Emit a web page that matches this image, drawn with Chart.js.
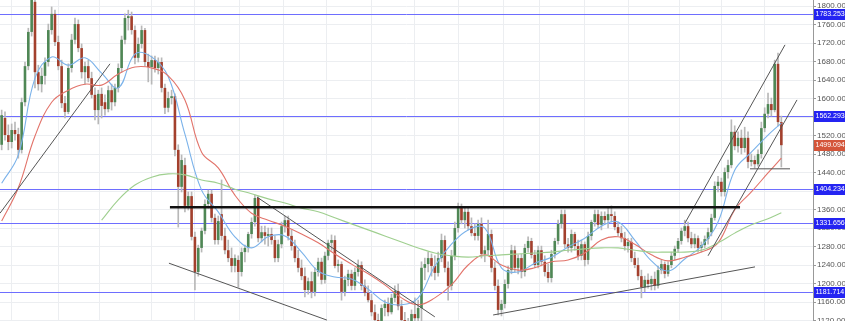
<!DOCTYPE html>
<html>
<head>
<meta charset="utf-8">
<script src="https://cdn.jsdelivr.net/npm/chart.js@4.4.1/dist/chart.umd.min.js"></script>
<style>
  html, body { margin: 0; padding: 0; background: #fff; }
  #wrap { width: 845px; height: 321px; }
</style>
</head>
<body>
<div id="wrap"><canvas id="chart" width="845" height="321"></canvas></div>
<script>
// candle data, one value per candle
const opens = [
  1500,1558,1521,1506,1532,1523,1489,1592,1670,1744,
  1809,1657,1631,1649,1679,1748,1783,1722,1670,1590,
  1571,1666,1727,1761,1709,1657,1670,1644,1608,1575,
  1610,1592,1577,1618,1592,1623,1666,1727,1774,1778,
  1748,1688,1718,1748,1679,1668,1683,1666,1679,1623,
  1580,1601,1605,1489,1409,1456,1368,1389,1301,1225,
  1277,1314,1372,1394,1342,1294,1350,1303,1272,1255,
  1238,1251,1225,1268,1277,1307,1333,1385,1298,1311,
  1303,1307,1294,1255,1285,1324,1337,1303,1281,1255,
  1234,1216,1186,1205,1182,1225,1247,1208,1260,1288,
  1294,1238,1242,1182,1208,1221,1195,1225,1240,1195,
  1180,1164,1138,1121,1104,1147,1156,1138,1169,1184,
  1151,1121,1104,1117,1134,1125,1147,1234,1242,1255,
  1238,1223,1255,1294,1234,1195,1260,1320,1363,1337,
  1355,1324,1309,1303,1329,1264,1272,1307,1234,1195,
  1143,1156,1199,1229,1272,1234,1255,1225,1277,1292,
  1262,1240,1272,1247,1225,1212,1264,1292,1329,1350,
  1285,1277,1307,1281,1260,1285,1251,1303,1333,1350,
  1327,1346,1337,1350,1346,1322,1309,1298,1281,1290,
  1255,1240,1216,1192,1208,1199,1210,1195,1229,1242,
  1221,1240,1260,1275,1292,1314,1324,1298,1285,1298,
  1277,1283,1296,1311,1342,1411,1420,1398,1441,1456,
  1528,1497,1515,1493,1515,1463,1467,1458,1480,1536,
  1567,1588,1575,1675,1549
];
const highs = [
  1575,1571,1543,1545,1549,1536,1601,1679,1752,1845,
  1824,1672,1666,1688,1761,1798,1791,1735,1683,1605,
  1675,1739,1774,1770,1718,1679,1683,1657,1623,1618,
  1623,1608,1627,1631,1631,1675,1735,1783,1791,1787,
  1757,1731,1757,1752,1696,1692,1692,1688,1688,1631,
  1614,1618,1610,1500,1478,1471,1398,1398,1311,1283,
  1320,1381,1402,1402,1350,1346,1424,1320,1294,1277,
  1262,1260,1277,1283,1311,1342,1391,1389,1324,1324,
  1320,1320,1303,1294,1333,1346,1346,1316,1294,1272,
  1251,1234,1212,1225,1234,1255,1255,1268,1294,1305,
  1303,1251,1247,1216,1229,1229,1234,1251,1247,1208,
  1195,1177,1154,1134,1154,1164,1169,1177,1195,1199,
  1164,1138,1125,1143,1169,1164,1247,1255,1268,1264,
  1260,1268,1307,1303,1247,1272,1333,1374,1372,1363,
  1363,1342,1329,1337,1342,1281,1337,1316,1247,1208,
  1164,1208,1238,1283,1281,1262,1264,1285,1301,1298,
  1272,1281,1281,1260,1242,1272,1298,1337,1359,1359,
  1298,1316,1311,1294,1294,1290,1311,1337,1359,1359,
  1355,1355,1363,1368,1355,1333,1324,1311,1298,1298,
  1268,1255,1229,1216,1221,1216,1225,1238,1251,1247,
  1247,1268,1281,1298,1320,1337,1333,1311,1307,1303,
  1290,1303,1320,1350,1420,1432,1428,1450,1467,1554,
  1541,1528,1532,1538,1528,1480,1476,1489,1549,1580,
  1612,1601,1683,1698,1562
];
const lows = [
  1489,1510,1489,1493,1510,1471,1482,1584,1662,1735,
  1623,1618,1614,1631,1670,1739,1714,1662,1580,1558,
  1567,1657,1718,1701,1644,1631,1636,1601,1554,1545,
  1558,1564,1571,1575,1584,1614,1657,1718,1748,1739,
  1675,1679,1709,1670,1636,1631,1657,1653,1614,1567,
  1571,1588,1476,1322,1398,1355,1359,1294,1186,1216,
  1268,1307,1363,1333,1285,1285,1294,1264,1247,1225,
  1225,1192,1216,1247,1268,1298,1324,1290,1290,1285,
  1281,1285,1247,1247,1277,1311,1294,1272,1247,1225,
  1208,1171,1177,1169,1173,1216,1199,1201,1251,1272,
  1234,1225,1164,1173,1195,1186,1186,1216,1186,1173,
  1160,1130,1117,1089,1095,1130,1130,1134,1160,1143,
  1108,1091,1082,1104,1117,1100,1117,1208,1225,1216,
  1208,1216,1247,1225,1164,1186,1251,1311,1329,1320,
  1316,1303,1294,1294,1255,1247,1260,1225,1186,1132,
  1130,1147,1190,1221,1225,1221,1212,1216,1268,1255,
  1234,1234,1238,1216,1203,1203,1255,1285,1320,1277,
  1268,1268,1272,1251,1251,1238,1242,1294,1324,1320,
  1316,1329,1320,1333,1316,1303,1290,1272,1268,1247,
  1234,1208,1169,1182,1190,1186,1186,1190,1221,1212,
  1216,1234,1251,1268,1285,1303,1290,1277,1277,1268,
  1268,1277,1285,1303,1337,1398,1389,1389,1428,1450,
  1489,1484,1480,1484,1450,1454,1450,1454,1471,1528,
  1558,1562,1571,1541,1452
];
const closes = [
  1564,1521,1506,1532,1523,1489,1592,1670,1744,1813,
  1657,1631,1649,1679,1748,1783,1722,1670,1590,1571,
  1666,1727,1761,1709,1657,1670,1644,1608,1575,1610,
  1584,1577,1618,1592,1623,1666,1727,1774,1778,1748,
  1688,1718,1748,1679,1668,1683,1666,1679,1623,1580,
  1601,1605,1489,1409,1467,1368,1389,1301,1225,1277,
  1314,1372,1394,1342,1294,1335,1303,1272,1255,1238,
  1255,1225,1268,1277,1307,1333,1385,1298,1311,1303,
  1307,1294,1255,1285,1324,1337,1303,1281,1255,1234,
  1216,1186,1205,1182,1225,1247,1208,1260,1288,1294,
  1238,1242,1182,1208,1221,1195,1225,1240,1195,1180,
  1164,1138,1121,1104,1147,1156,1138,1169,1184,1151,
  1121,1104,1117,1134,1125,1147,1234,1242,1255,1238,
  1223,1255,1294,1234,1195,1260,1320,1363,1337,1355,
  1324,1309,1303,1329,1264,1272,1307,1234,1195,1143,
  1156,1199,1229,1272,1234,1255,1225,1277,1292,1262,
  1240,1272,1247,1225,1212,1264,1292,1329,1350,1285,
  1277,1307,1281,1260,1285,1251,1303,1333,1350,1327,
  1346,1337,1350,1346,1322,1309,1298,1281,1290,1255,
  1240,1216,1192,1208,1199,1210,1195,1229,1242,1221,
  1240,1260,1275,1292,1314,1324,1298,1285,1298,1277,
  1283,1296,1311,1342,1411,1420,1398,1441,1456,1528,
  1497,1515,1493,1515,1463,1467,1458,1480,1536,1567,
  1588,1575,1675,1549,1499.094
];

// moving averages, read every 5 candles
const maIdx = [0,5,10,15,20,25,30,35,40,45,50,55,60,65,70,75,80,85,90,95,
  100,105,110,115,120,125,130,135,140,145,150,155,160,165,170,175,180,185,190,195,
  200,205,210,215,220,225,230,234];
const maBlue = [1417,1478,1644,1690,1672,1688,1655,1623,1696,1690,1647,1523,1402,1355,1301,1277,
  1301,1303,1268,1227,1214,1210,1188,1160,1154,1169,1238,1285,1316,1320,1234,1225,
  1244,1257,1279,1298,1324,1333,1294,1249,1227,1253,1281,1333,1445,1484,1521,1547];
const maRed = [1335,1407,1519,1592,1618,1631,1629,1653,1668,1666,1649,1597,1484,1450,1391,1352,
  1337,1324,1307,1288,1264,1242,1221,1197,1169,1154,1169,1197,1240,1262,1240,1229,
  1234,1247,1251,1266,1294,1301,1285,1262,1249,1257,1268,1288,1359,1398,1439,1471];
const maGreen = [null,null,null,null,null,null,1337,1381,1413,1430,1437,1435,1424,1417,1404,1394,
  1383,1374,1363,1355,1342,1329,1316,1303,1290,1277,1266,1260,1257,1260,1262,1264,
  1266,1268,1272,1275,1277,1277,1272,1268,1268,1268,1272,1288,1309,1327,1340,1353];

// horizontal levels and drawn lines
const levels = [1783.253, 1562.293, 1404.234, 1331.656, 1181.714];
const trendLines = [
  [[-0.5, 1352], [32.5, 1675]],
  [[50.2, 1244], [97.6, 1121]],
  [[76.6, 1387], [130, 1128]],
  [[147.5, 1132], [226.1, 1236]],
  [[205.1, 1331], [235.1, 1716]],
  [[212, 1260], [238.7, 1597]],
  [[224.6, 1448], [236.6, 1448]]
];
const neckLine = [[50.5, 1365], [221.6, 1365]];

const yTicks = [1120,1160,1200,1240,1280,1320,1360,1400,1440,1480,1520,1560,1600,1640,1680,1720,1760,1800];
const gridX = [3, 17, 29.5, 45, 58, 71.5, 84.5, 97.5, 111, 124, 137, 150.5, 161.5, 175, 188, 203.5, 216, 229];

const upColor = '#4f8755';
const downColor = '#a3402d';

Chart.defaults.font.family = 'Arial, "Liberation Sans", sans-serif';
Chart.defaults.font.size = 8;

const levelPlugin = {
  id: 'levels',
  beforeDatasetsDraw(chart) {
    const { ctx, chartArea, scales: { y } } = chart;
    ctx.save();
    ctx.strokeStyle = 'rgb(110,110,255)';
    ctx.lineWidth = 1;
    levels.forEach(v => {
      const py = Math.round(y.getPixelForValue(v)) + 0.5;
      ctx.beginPath();
      ctx.moveTo(chartArea.left, py);
      ctx.lineTo(chartArea.right, py);
      ctx.stroke();
    });
    ctx.restore();
  },
  afterDraw(chart) {
    const { ctx, chartArea, scales: { y } } = chart;
    const last = closes[closes.length - 1];
    const tags = levels.map(v => ({ v, bg: '#2424f2' })).concat([{ v: last, bg: '#d4553a' }]);
    ctx.save();
    ctx.font = '7px Arial, "Liberation Sans", sans-serif';
    ctx.textBaseline = 'middle';
    ctx.textAlign = 'left';
    tags.forEach(t => {
      const py = Math.round(y.getPixelForValue(t.v));
      ctx.fillStyle = t.bg;
      ctx.fillRect(chartArea.right + 1, py - 5, 31, 11);
      ctx.fillStyle = '#fff';
      ctx.fillText(t.v.toFixed(3), chartArea.right + 2.5, py + 0.5);
    });
    ctx.restore();
  }
};

const lineSet = (pts, color, width) => ({
  type: 'line',
  data: pts.map(p => ({ x: p[0], y: p[1] })),
  borderColor: color,
  borderWidth: width,
  pointRadius: 0,
  fill: false,
  tension: 0
});

const maSet = (vals, color) => ({
  type: 'line',
  data: maIdx.map((x, k) => ({ x, y: vals[k] })),
  borderColor: color,
  borderWidth: 1.1,
  pointRadius: 0,
  fill: false,
  tension: 0.4
});

const datasets = [
  {
    type: 'bar',
    data: lows.map((l, i) => ({ x: i, y: [l, highs[i]] })),
    backgroundColor: '#b8b8b8',
    barThickness: 1,
    grouped: false,
    order: 5
  },
  {
    type: 'bar',
    data: opens.map((o, i) => ({ x: i, y: [o, closes[i]] })),
    backgroundColor: c => closes[c.dataIndex] >= opens[c.dataIndex] ? upColor : downColor,
    borderWidth: 0,
    barPercentage: 0.78,
    categoryPercentage: 1,
    minBarLength: 1,
    grouped: false,
    order: 4
  },
  Object.assign(maSet(maGreen, '#9fcf8f'), { order: 3 }),
  Object.assign(maSet(maRed, '#e2736a'), { order: 3 }),
  Object.assign(maSet(maBlue, '#7ab2ea'), { order: 3 }),
  ...trendLines.map(t => Object.assign(lineSet(t, '#555', 1), { order: 1 })),
  Object.assign(lineSet(neckLine, '#111', 2.6), { order: 0 })
];

new Chart(document.getElementById('chart').getContext('2d'), {
  type: 'bar',
  data: { datasets },
  options: {
    responsive: false,
    animation: false,
    layout: { padding: 0 },
    plugins: { legend: { display: false }, tooltip: { enabled: false } },
    scales: {
      x: {
        type: 'linear',
        min: -0.5,
        max: 243.5,
        offset: false,
        grid: { color: '#eceef1', offset: false, drawTicks: false },
        border: { display: false },
        ticks: { display: false },
        afterBuildTicks: s => { s.ticks = gridX.map(v => ({ value: v })); },
        afterFit: s => { s.height = 0; s.paddingLeft = 0; s.paddingRight = 0; }
      },
      y: {
        type: 'linear',
        position: 'right',
        min: 1119,
        max: 1813,
        grid: { color: '#eceef1', tickLength: 3, tickColor: '#999' },
        border: { color: '#999' },
        ticks: {
          color: '#555',
          padding: 1,
          autoSkip: false,
          callback: v => Number(v).toFixed(3)
        },
        afterBuildTicks: s => { s.ticks = yTicks.map(v => ({ value: v })); },
        afterFit: s => { s.width = 32; s.paddingTop = 0; s.paddingBottom = 0; }
      }
    }
  },
  plugins: [levelPlugin]
});
</script>
</body>
</html>
